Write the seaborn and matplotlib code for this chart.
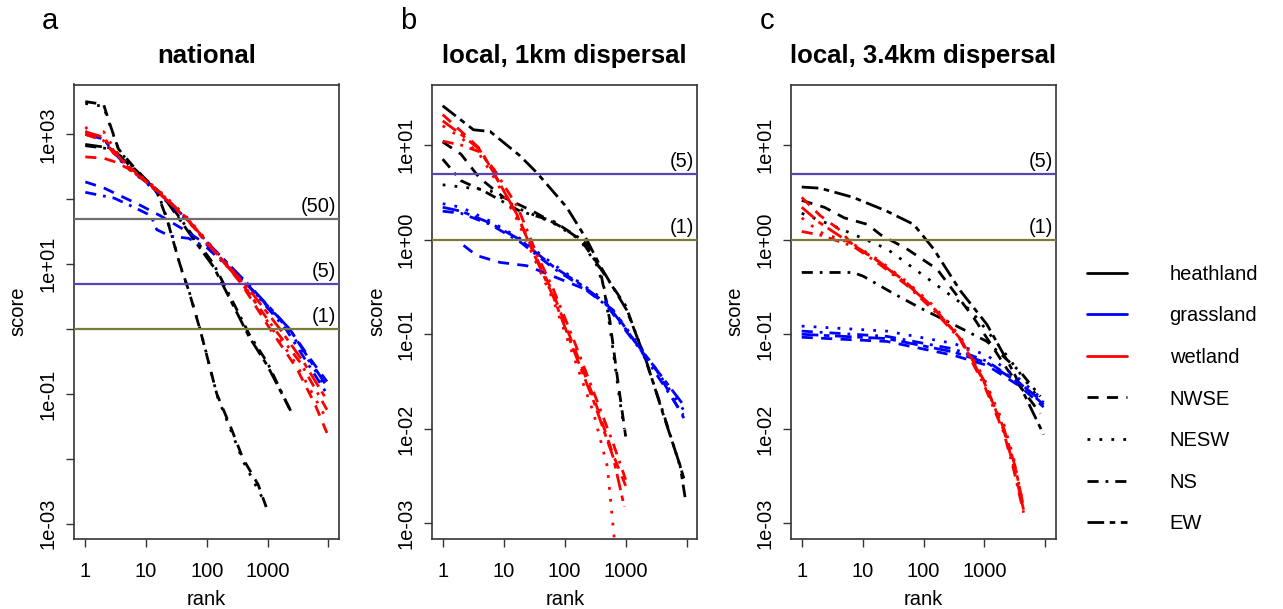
import pandas as pd
import matplotlib
matplotlib.use("Agg")
import matplotlib.pyplot as plt
import seaborn as sns
from matplotlib.lines import Line2D
from matplotlib.ticker import FixedLocator, FixedFormatter, NullLocator
from matplotlib.transforms import blended_transform_factory

# ---- data: (rank, score) per curve ----
# panel a: national
A_HEATH_NWSE = [(1, 3200), (2, 2900), (2.5, 1500), (3.5, 600), (6, 330), (10, 200), (15, 130), (22, 50),
                (36, 10), (50, 4), (77, 1), (146, 0.1), (250, 0.03), (395, 0.01), (700, 0.004), (950, 0.0018)]
A_HEATH_NESW = [(1, 3000), (2, 2700), (2.6, 1300), (3.6, 560), (6, 320), (10, 190), (16, 120), (23, 45),
                (37, 9), (52, 3.6), (80, 0.9), (150, 0.09), (400, 0.009), (880, 0.0022)]
A_HEATH_NS = [(1, 670), (2.5, 600), (4, 450), (10, 200), (20, 110), (40, 45), (70, 22), (130, 10),
              (250, 3), (510, 0.8), (1000, 0.3), (2500, 0.05)]
A_HEATH_EW = [(1, 700), (2.5, 620), (4, 430), (10, 195), (20, 105), (40, 42), (70, 20), (130, 9),
              (250, 2.7), (500, 0.75), (1000, 0.27), (2400, 0.055)]
A_GRASS_NWSE = [(1, 185), (2, 150), (8, 81), (17, 56), (42, 34), (100, 20), (450, 5), (2300, 1),
                (5000, 0.35), (9500, 0.155)]
A_GRASS_NESW = [(1, 1100), (2, 900), (3, 500), (5, 300), (10, 180), (20, 100), (50, 45), (100, 22),
                (450, 5), (2200, 1), (9500, 0.12)]
A_GRASS_NS = [(1, 128), (3, 104), (6, 77), (12, 56), (15, 34), (25, 27), (50, 25), (100, 18), (450, 5),
              (2000, 1), (9500, 0.1)]
A_GRASS_EW = [(1, 1000), (2, 850), (3, 520), (5, 310), (10, 185), (20, 105), (50, 47), (100, 22),
              (470, 5), (2300, 1), (9500, 0.13)]
A_WET_NWSE = [(1, 450), (2, 430), (3, 380), (5, 300), (10, 190), (20, 110), (50, 48), (100, 22),
              (370, 5), (1100, 1), (3000, 0.25), (6000, 0.07), (9500, 0.025)]
A_WET_NESW = [(1, 1300), (1.5, 900), (2, 1100), (3, 600), (5, 320), (10, 200), (20, 115), (50, 50),
              (100, 23), (400, 5), (1200, 1), (3000, 0.28), (9500, 0.04)]
A_WET_NS = [(1, 1000), (2, 800), (3, 500), (5, 330), (10, 190), (20, 110), (50, 47), (100, 22),
            (380, 5), (1300, 1), (3500, 0.3), (9500, 0.057)]
A_WET_EW = [(1, 1100), (2, 900), (3, 550), (5, 310), (10, 185), (20, 105), (50, 46), (100, 21),
            (420, 5), (1600, 1), (4000, 0.3), (9500, 0.08)]

# panel b: local, 1km dispersal
B_HEATH_NWSE = [(1, 10.8), (2, 8), (4, 4.5), (10, 2.8), (30, 2.0), (100, 1.3), (230, 0.9), (380, 0.49),
                (550, 0.14), (710, 0.04), (1000, 0.0083)]
B_HEATH_NESW = [(1, 3.8), (3, 3.5), (6, 3.3), (18.5, 2.1), (65, 1.5), (178, 1.0), (330, 0.55),
                (450, 0.3), (600, 0.08), (800, 0.02), (950, 0.01)]
B_HEATH_NS = [(1, 7.1), (2, 4.2), (5, 3.2), (18.5, 2.0), (65, 1.57), (178, 1.03), (330, 0.575),
              (1000, 0.2), (2200, 0.05), (4100, 0.015), (9000, 0.003)]
B_HEATH_EW = [(1, 26), (3.2, 14.5), (6, 13.9), (18.5, 7.7), (35, 5.1), (108, 2.2), (230, 1.0),
              (380, 0.53), (1040, 0.18), (2200, 0.051), (4100, 0.0144), (7800, 0.0041), (9400, 0.0019)]
B_GRASS_NWSE = [(2.2, 0.87), (3.6, 0.68), (8.7, 0.575), (24, 0.53), (65, 0.41), (230, 0.295),
                (625, 0.18), (1700, 0.07), (3000, 0.045), (9000, 0.013)]
B_GRASS_NESW = [(1, 2.4), (2, 2.2), (6, 1.57), (18.5, 1.03), (65, 0.55), (178, 0.35), (490, 0.22),
                (1700, 0.075), (8800, 0.016)]
B_GRASS_NS = [(1, 2.0), (2, 1.9), (6, 1.45), (18.5, 0.95), (65, 0.5), (178, 0.33), (490, 0.2),
              (1700, 0.07), (8800, 0.014)]
B_GRASS_EW = [(1, 2.2), (2, 2.0), (6, 1.5), (18.5, 1.0), (65, 0.52), (178, 0.34), (490, 0.21),
              (1700, 0.072), (8800, 0.018)]
B_WET_NWSE = [(1, 21), (2, 14), (4.1, 9.1), (6.8, 5.1), (16.4, 1.86), (35, 0.63), (65, 0.27),
              (138, 0.077), (295, 0.022), (625, 0.0053), (1000, 0.0025)]
B_WET_NESW = [(1, 16), (2, 12), (4, 8), (7, 4.5), (16, 1.7), (35, 0.55), (65, 0.23), (138, 0.06),
              (295, 0.015), (500, 0.004), (650, 0.0007)]
B_WET_NS = [(1, 11), (2, 10), (4, 8.5), (7, 5.5), (17, 2.2), (35, 0.7), (65, 0.3), (138, 0.09),
            (295, 0.025), (625, 0.007), (1000, 0.0029)]
B_WET_EW = [(1, 18), (2, 13), (4, 9), (7, 5), (16, 1.9), (35, 0.6), (65, 0.25), (138, 0.07),
            (295, 0.02), (625, 0.005), (950, 0.0015)]

# panel c: local, 3.4km dispersal
C_HEATH_NWSE = [(1, 2.6), (2.35, 2.2), (5, 1.7), (12, 1.45), (20, 1.12), (53, 0.8), (166, 0.49),
                (665, 0.15), (2350, 0.043), (8300, 0.0145)]
C_HEATH_NESW = [(1, 1.9), (2.9, 1.45), (8, 1.1), (25, 0.8), (146, 0.35), (590, 0.18), (2100, 0.065),
                (7400, 0.022)]
C_HEATH_NS = [(1, 0.45), (7, 0.45), (10.3, 0.41), (32, 0.27), (88, 0.19), (310, 0.127), (1100, 0.084),
              (3900, 0.04), (8300, 0.022)]
C_HEATH_EW = [(1, 3.6), (2, 3.5), (7, 2.8), (25, 2.0), (69, 1.45), (146, 0.8), (400, 0.29),
              (1100, 0.127), (3000, 0.04), (9400, 0.0087)]
C_GRASS_NWSE = [(1, 0.093), (25, 0.084), (310, 0.06), (1100, 0.047), (3900, 0.028), (9400, 0.017)]
C_GRASS_NESW = [(1, 0.122), (25, 0.108), (310, 0.08), (1100, 0.06), (3900, 0.033), (9400, 0.02)]
C_GRASS_NS = [(1, 0.108), (25, 0.095), (310, 0.07), (1100, 0.052), (3900, 0.03), (9400, 0.018)]
C_GRASS_EW = [(1, 0.1), (25, 0.09), (310, 0.065), (1100, 0.05), (3900, 0.03), (9400, 0.019)]
C_WET_NWSE = [(1, 2.8), (2, 1.8), (4, 1.3), (7, 0.875), (19.4, 0.575), (53, 0.35), (146, 0.19),
              (400, 0.091), (970, 0.033), (2100, 0.0095), (3000, 0.0041), (4400, 0.0014)]
C_WET_NESW = [(1, 1.7), (2, 1.2), (7, 0.9), (19, 0.6), (53, 0.36), (146, 0.2), (400, 0.095),
              (970, 0.035), (2100, 0.011), (3000, 0.005), (4300, 0.0016)]
C_WET_NS = [(1, 1.22), (2, 1.12), (7, 0.85), (19, 0.55), (53, 0.33), (146, 0.18), (400, 0.088),
            (970, 0.03), (2100, 0.009), (3000, 0.0038), (4400, 0.0013)]
C_WET_EW = [(1, 2.2), (2, 1.5), (7, 0.88), (19, 0.58), (53, 0.34), (146, 0.19), (400, 0.09),
            (970, 0.032), (2100, 0.01), (3200, 0.004), (4400, 0.0015)]

HABITATS = ["heathland", "grassland", "wetland"]
DIRECTIONS = ["NWSE", "NESW", "NS", "EW"]
TITLES = ["national", "local, 1km dispersal", "local, 3.4km dispersal"]
PANEL_LETTERS = ["a", "b", "c"]
THRESHOLDS = [[50, 5, 1], [5, 1], [5, 1]]

CURVES = {
    "a": {"heathland": [A_HEATH_NWSE, A_HEATH_NESW, A_HEATH_NS, A_HEATH_EW],
          "grassland": [A_GRASS_NWSE, A_GRASS_NESW, A_GRASS_NS, A_GRASS_EW],
          "wetland": [A_WET_NWSE, A_WET_NESW, A_WET_NS, A_WET_EW]},
    "b": {"heathland": [B_HEATH_NWSE, B_HEATH_NESW, B_HEATH_NS, B_HEATH_EW],
          "grassland": [B_GRASS_NWSE, B_GRASS_NESW, B_GRASS_NS, B_GRASS_EW],
          "wetland": [B_WET_NWSE, B_WET_NESW, B_WET_NS, B_WET_EW]},
    "c": {"heathland": [C_HEATH_NWSE, C_HEATH_NESW, C_HEATH_NS, C_HEATH_EW],
          "grassland": [C_GRASS_NWSE, C_GRASS_NESW, C_GRASS_NS, C_GRASS_EW],
          "wetland": [C_WET_NWSE, C_WET_NESW, C_WET_NS, C_WET_EW]},
}

rows = []
for panel, habs in CURVES.items():
    for hab, curves in habs.items():
        for direction, pts in zip(DIRECTIONS, curves):
            for r, s in pts:
                rows.append({"panel": panel, "habitat": hab, "direction": direction, "rank": r, "score": s})
df = pd.DataFrame(rows)

# ---- styling ----
sns.set_style("white")
plt.rcParams["font.family"] = ["Liberation Sans", "DejaVu Sans"]
plt.rcParams.update({"text.color": "black", "axes.labelcolor": "black",
                     "xtick.color": "black", "ytick.color": "black"})
FS = 14.5

PALETTE = {"heathland": "black", "grassland": "#0000FF", "wetland": "#FF0000"}
DASHES = {"NWSE": (4, 3), "NESW": (1, 3.3), "NS": (4, 2.5, 1, 2.5), "EW": (6, 2, 2, 2)}
LINE_COLORS = {50: "#6e6e6e", 5: "#5a44b4", 1: "#7b7b3c"}

W, H = 1283, 609
fig = plt.figure(figsize=(W / 100, H / 100), dpi=100)

ax_left = [74, 432.3, 791]
ax_w = 265
ax_top, ax_bot = 84.5, 539
xlims = [(10 ** -0.186, 10 ** 4.176), (10 ** -0.17, 10 ** 4.174), (10 ** -0.176, 10 ** 4.176)]
ylims = [(10 ** -3.237, 10 ** 3.769), (10 ** -3.164, 10 ** 1.64), (10 ** -3.164, 10 ** 1.64)]

for i, panel in enumerate(PANEL_LETTERS):
    ax = fig.add_axes([ax_left[i] / W, 1 - ax_bot / H, ax_w / W, (ax_bot - ax_top) / H])
    sub = df[df["panel"] == panel]
    sns.lineplot(data=sub, x="rank", y="score", hue="habitat", style="direction",
                 hue_order=HABITATS, style_order=DIRECTIONS, palette=PALETTE, dashes=DASHES,
                 estimator=None, errorbar=None, legend=False, lw=2.0, ax=ax)
    ax.set_xscale("log")
    ax.set_yscale("log")
    ax.set_xlim(*xlims[i])
    ax.set_ylim(*ylims[i])

    ax.xaxis.set_major_locator(FixedLocator([1, 10, 100, 1000, 10000]))
    ax.xaxis.set_major_formatter(FixedFormatter(["1", "10", "100", "1000", ""]))
    ax.xaxis.set_minor_locator(NullLocator())
    if panel == "a":
        yt = [1e-3, 1e-2, 1e-1, 1e0, 1e1, 1e2, 1e3]
        yl = ["1e-03", "", "1e-01", "", "1e+01", "", "1e+03"]
    else:
        yt = [1e-3, 1e-2, 1e-1, 1e0, 1e1]
        yl = ["1e-03", "1e-02", "1e-01", "1e+00", "1e+01"]
    ax.yaxis.set_major_locator(FixedLocator(yt))
    ax.yaxis.set_major_formatter(FixedFormatter(yl))
    ax.yaxis.set_minor_locator(NullLocator())

    ax.tick_params(axis="both", which="major", direction="out", length=5.5, width=1.0,
                   color="#333333", labelsize=FS, bottom=True, left=True)
    ax.tick_params(axis="x", pad=11)
    ax.tick_params(axis="y", pad=6.5)
    for lab in ax.get_yticklabels():
        lab.set_rotation(90)
        lab.set_va("center")

    for sp in ax.spines.values():
        sp.set_visible(True)
        sp.set_color("#333333")
        sp.set_linewidth(1.2)

    trans = blended_transform_factory(ax.transAxes, ax.transData)
    for v in THRESHOLDS[i]:
        ax.axhline(v, color=LINE_COLORS[v], lw=1.6, zorder=3)
        ax.annotate(f"({v})", xy=(1, v), xycoords=trans, xytext=(-2, 2), textcoords="offset points",
                    ha="right", va="bottom", fontsize=FS)

    ax.set_xlabel("rank", fontsize=FS)
    ax.set_ylabel("score", fontsize=FS)
    ax.xaxis.set_label_coords(0.5, -0.113)
    ax.yaxis.set_label_coords(-0.175, 0.5)

    cx = (ax_left[i] + ax_w / 2) / W
    fig.text(cx, 1 - 56 / H, TITLES[i], ha="center", va="center", fontsize=18.5, fontweight="bold")
    fig.text((ax_left[i] - 24) / W, 1 - 21 / H, panel, ha="center", va="center", fontsize=21)

handles = [Line2D([0], [0], color=PALETTE[h], lw=2.0) for h in HABITATS]
handles += [Line2D([0], [0], color="black", lw=2.0, dashes=DASHES[d]) for d in DIRECTIONS]
fig.legend(handles, HABITATS + DIRECTIONS, loc="center left", bbox_to_anchor=(1087 / W, 1 - 399 / H),
           frameon=False, fontsize=FS, handlelength=2.0, handletextpad=2.1, labelspacing=1.12,
           borderpad=0, borderaxespad=0)

fig.savefig("out.png", dpi=100)
